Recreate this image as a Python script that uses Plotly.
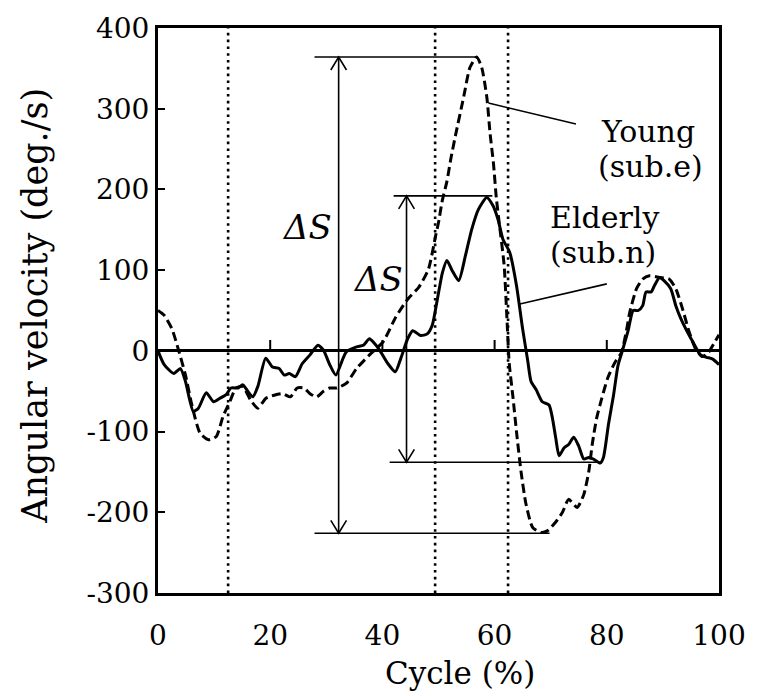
import plotly.graph_objects as go

# ---------------- data ----------------
elderly_x = [0, 1.1, 2.8, 4.0, 4.9, 6.3, 7.2, 8.6, 9.9, 11.0, 12.2, 13.0, 14.3, 15.1, 16.0, 16.9, 17.8,
             19.2, 20.4, 21.6, 22.5, 23.4, 24.5, 25.7, 27.1, 28.5, 29.5, 30.6, 31.7, 33.0, 33.6, 35.4,
             36.6, 37.7, 38.6, 39.5, 41.0, 42.3, 43.3, 44.5, 45.4, 46.8, 48.0, 48.9, 49.8, 50.7, 51.5,
             52.4, 53.6, 54.8, 55.9, 57.1, 58.6, 59.7, 60.6, 61.5, 62.7, 63.9, 65.0, 65.9, 66.5, 67.4,
             68.5, 69.7, 70.3, 70.9, 71.5, 72.4, 73.2, 74.1, 75.0, 75.9, 76.8, 77.6, 78.8, 79.4, 80.3,
             81.2, 82.0, 82.9, 83.8, 84.7, 85.6, 86.4, 87.0, 87.9, 88.5, 89.4, 90.2, 91.4, 92.3, 93.2,
             94.4, 95.5, 96.7, 97.8, 98.8, 100]
elderly_y = [0, -17, -28, -22, -38, -75, -71, -52, -63, -59, -54, -46, -46, -42, -50, -57, -44,
             -9, -20, -22, -30, -28, -32, -16, -5, 7, 1, -17, -30, -9, -1, 5,
             7, 15, 9, 1, -16, -26, -9, 15, 25, 19, 21, 32, 64, 97, 112,
             100, 87, 118, 150, 175, 190, 180, 163, 138, 122, 81, 27, -12, -38, -48,
             -63, -67, -83, -108, -130, -120, -116, -107, -118, -134, -132, -134, -139, -132, -91,
             -55, -18, 3, 25, 50, 50, 56, 73, 73, 81, 91, 87, 77, 56, 40,
             23, 9, -5, -8, -10, -17]

young_x = [0, 1.1, 2.5, 3.7, 4.9, 6.0, 7.5, 9.0, 10.4, 11.6, 12.8, 13.9, 15.1, 16.5, 17.8, 19.2,
           20.7, 22.2, 23.6, 24.8, 26.0, 27.1, 28.3, 29.5, 30.6, 31.9, 33.6, 35.4, 37.7, 40.1, 42.4,
           44.5, 46.5, 48.2, 49.5, 50.0, 50.7, 51.5, 52.2, 53.0, 54.5, 55.6, 56.8, 57.7, 58.6, 59.2,
           59.8, 60.3, 60.8, 61.7, 62.2, 62.6, 63.3, 63.9, 64.7, 65.6, 66.8, 68.3, 69.4, 70.9, 72.1,
           73.2, 74.7, 75.9, 76.8, 77.4, 78.2, 79.1, 80.2, 81.4, 82.6, 83.5, 84.1, 85.3, 86.4, 87.6,
           89.4, 91.1, 92.3, 93.5, 94.7, 95.8, 97.0, 98.0, 99.0, 100]
young_y = [50, 44, 27, 0, -30, -66, -102, -110, -106, -81, -63, -46, -44, -61, -71, -59,
           -55, -53, -57, -46, -46, -53, -57, -50, -46, -46, -40, -22, -5, 11, 42,
           64, 79, 101, 143, 159, 187, 210, 238, 266, 315, 351, 364, 351, 315, 269,
           232, 190, 160, 106, 40, -15, -59, -100, -149, -190, -219, -225, -223, -212, -200,
           -184, -194, -178, -149, -116, -83, -59, -33, -15, -2, 25, 48, 77, 89, 93,
           91, 89, 77, 52, 23, 3, -7, -3, 8, 20]

phase_lines = [12.5, 49.4, 62.4]          # dotted vertical lines (% cycle)

# Delta-S markers
young_ds = dict(x=32.2, top=364, bottom=-226, top_from=27.9, top_to=56.9, bot_from=27.9, bot_to=69.8)
elderly_ds = dict(x=44.3, top=192, bottom=-138, top_from=42.0, top_to=59.6, bot_from=41.3, bot_to=79.1)

x_ticks = [0, 20, 40, 60, 80, 100]
x_ticktext = ["0", "20", "40", "60", "80", "100"]
y_ticks = [-300, -200, -100, 0, 100, 200, 300, 400]
y_ticktext = ["-300", "-200", "-100", "0", "100", "200", "300", "400"]
inner_x_ticks = [20, 40, 60, 80]

# leader lines from curves to labels
young_leader = dict(x=[58.9, 74.5], y=[307, 281])
elderly_leader = dict(x=[64.5, 80.0], y=[58, 83])

FONT = "DejaVu Serif"
HEAD_DX = 1.4
HEAD_DY = 16
INNER_TICK = 13.5   # length of ticks on the zero line, in y units

fig = go.Figure()

# dotted phase lines
for v in phase_lines:
    fig.add_trace(go.Scatter(x=[v, v], y=[-300, 400], mode="lines",
                             line=dict(color="black", width=2.6, dash="2.6px,4.2px"),
                             showlegend=False, hoverinfo="skip"))

# ticks on the zero line
tx, ty = [], []
for t in inner_x_ticks:
    tx += [t, t, None]
    ty += [0, INNER_TICK, None]
fig.add_trace(go.Scatter(x=tx, y=ty, mode="lines", line=dict(color="black", width=2),
                         showlegend=False, hoverinfo="skip"))

# delta S guides
for d in (young_ds, elderly_ds):
    fig.add_trace(go.Scatter(x=[d["top_from"], d["top_to"]], y=[d["top"], d["top"]], mode="lines",
                             line=dict(color="black", width=1.6), showlegend=False, hoverinfo="skip"))
    fig.add_trace(go.Scatter(x=[d["bot_from"], d["bot_to"]], y=[d["bottom"], d["bottom"]], mode="lines",
                             line=dict(color="black", width=1.6), showlegend=False, hoverinfo="skip"))
    fig.add_trace(go.Scatter(x=[d["x"], d["x"]], y=[d["top"], d["bottom"]], mode="lines",
                             line=dict(color="black", width=1.6), showlegend=False, hoverinfo="skip"))
    fig.add_trace(go.Scatter(x=[d["x"] - HEAD_DX, d["x"], d["x"] + HEAD_DX],
                             y=[d["top"] - HEAD_DY, d["top"], d["top"] - HEAD_DY], mode="lines",
                             line=dict(color="black", width=1.6), showlegend=False, hoverinfo="skip"))
    fig.add_trace(go.Scatter(x=[d["x"] - HEAD_DX, d["x"], d["x"] + HEAD_DX],
                             y=[d["bottom"] + HEAD_DY, d["bottom"], d["bottom"] + HEAD_DY], mode="lines",
                             line=dict(color="black", width=1.6), showlegend=False, hoverinfo="skip"))

# leader lines
for ld in (young_leader, elderly_leader):
    fig.add_trace(go.Scatter(x=ld["x"], y=ld["y"], mode="lines",
                             line=dict(color="black", width=1.6), showlegend=False, hoverinfo="skip"))

# curves
fig.add_trace(go.Scatter(x=young_x, y=young_y, mode="lines", name="Young (sub.e)",
                         line=dict(color="black", width=3, dash="9px,4.5px", shape="spline", smoothing=0.6),
                         showlegend=False))
fig.add_trace(go.Scatter(x=elderly_x, y=elderly_y, mode="lines", name="Elderly (sub.n)",
                         line=dict(color="black", width=3, shape="spline", smoothing=0.6),
                         showlegend=False))

ann_common = dict(showarrow=False, xanchor="center", yanchor="middle")

fig.update_layout(
    width=758, height=696,
    margin=dict(l=158, r=31, t=24, b=103),
    paper_bgcolor="white", plot_bgcolor="white",
    font=dict(family=FONT, color="black", size=28),
    xaxis=dict(range=[0, 100], tickvals=x_ticks, ticktext=x_ticktext, ticks="",
               ticklabelstandoff=15,
               showline=True, linewidth=3, linecolor="black", mirror=True,
               showgrid=False, zeroline=False, tickfont=dict(family=FONT, size=28, color="black")),
    yaxis=dict(range=[-300, 400], tickvals=y_ticks, ticktext=y_ticktext, ticks="inside",
               ticklen=7, tickwidth=2, tickcolor="black",
               showline=True, linewidth=3, linecolor="black", mirror=True,
               showgrid=False, zeroline=True, zerolinewidth=2.6, zerolinecolor="black",
               tickfont=dict(family=FONT, size=28, color="black")),
    annotations=[
        dict(text="Angular velocity (deg./s)", xref="paper", yref="paper", x=(33 - 158) / 569,
             y=(593 - 304) / 569, textangle=-90, font=dict(family=FONT, size=35), **ann_common),
        dict(text="Cycle (%)", xref="paper", yref="paper", x=(464 - 158) / 569, y=(593 - 674) / 569,
             font=dict(family=FONT, size=31), **ann_common),
        dict(text="Young", x=87.3, y=272, font=dict(family=FONT, size=30), **ann_common),
        dict(text="(sub.e)", x=87.7, y=229, font=dict(family=FONT, size=30), **ann_common),
        dict(text="Elderly", x=79.6, y=165, font=dict(family=FONT, size=30), **ann_common),
        dict(text="(sub.n)", x=79.3, y=122, font=dict(family=FONT, size=30), **ann_common),
        dict(text="<i>ΔS</i>", x=26.5, y=153, font=dict(family=FONT, size=34), **ann_common),
        dict(text="<i>ΔS</i>", x=39.3, y=89, font=dict(family=FONT, size=34), **ann_common),
    ],
)

fig.write_html("out.html")
